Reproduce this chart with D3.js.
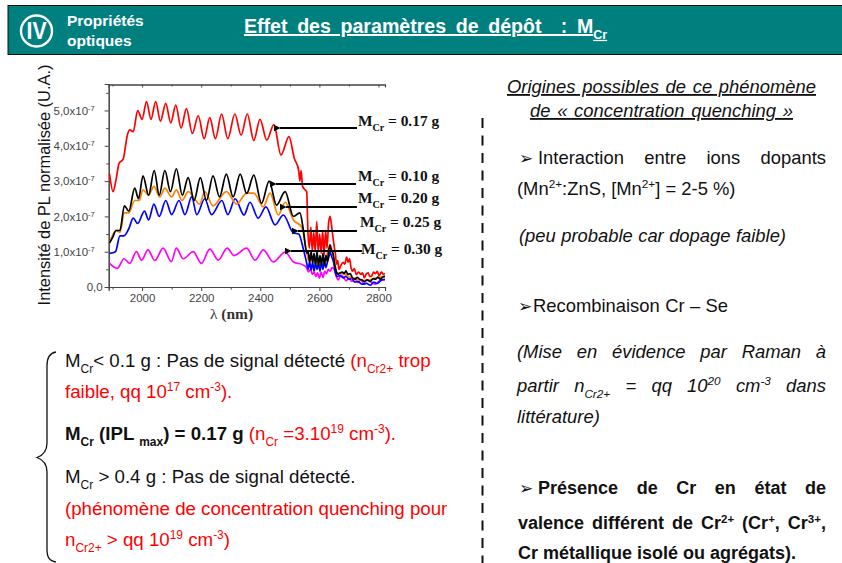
<!DOCTYPE html>
<html><head><meta charset="utf-8">
<script src="https://cdn.jsdelivr.net/npm/d3@7"></script>
<style>html,body{margin:0;padding:0;background:#fff}svg{display:block}text{font-family:"Liberation Sans",Arial,sans-serif}</style>
</head><body><svg id="c" width="842" height="563"></svg>
<script>
// PL intensity in units of 1e-7, wavelength in nm: [nm, value]
const red017 = [[1890,3.2],[1902,2.7],[1912,3.05],[1922,3.5],[1936,3.62],[1950,4.3],[1958,4.45],[1970,4.4],[1985,5.0],[2000,4.75],[2015,5.25],[2030,4.75],[2046,5.25],[2062,4.7],[2080,5.2],[2097,4.65],[2114,5.15],[2132,4.5],[2150,5.05],[2170,4.35],[2190,4.85],[2210,4.2],[2229,4.8],[2248,4.2],[2269,4.9],[2290,4.2],[2314,4.9],[2335,4.3],[2356,4.9],[2378,4.15],[2399,4.75],[2422,4.16],[2446,4.6],[2470,3.74],[2497,4.26],[2515,3.65],[2530,3.3],[2534,3.0],[2538,3.3],[2543,2.85],[2552,2.75],[2557,2.7],[2561,1.6],[2566,1.1],[2571,1.7],[2576,1.0],[2581,1.55],[2586,1.0],[2591,1.85],[2596,1.0],[2601,1.5],[2606,0.95],[2611,1.6],[2616,0.9],[2621,1.6],[2626,1.1],[2631,1.8],[2636,2.0],[2641,1.75],[2646,1.4],[2651,1.1],[2654,0.95],[2658,0.65],[2662,0.75],[2666,0.5],[2672,0.6],[2680,0.7],[2686,0.65],[2692,0.85],[2697,0.7],[2702,0.8],[2707,0.55],[2712,0.45],[2718,0.52],[2725,0.35],[2732,0.42],[2740,0.36],[2746,0.4],[2752,0.26],[2758,0.36],[2765,0.4],[2770,0.3],[2776,0.3],[2783,0.42],[2790,0.38],[2796,0.44],[2802,0.32],[2810,0.42],[2816,0.36],[2822,0.38]];
const black010 = [[1890,1.25],[1900,1.4],[1912,1.6],[1925,1.6],[1940,2.3],[1955,2.15],[1975,2.8],[1988,2.5],[2003,3.15],[2022,2.6],[2041,3.3],[2058,2.6],[2077,3.3],[2096,2.7],[2116,3.35],[2136,2.6],[2156,3.1],[2176,2.45],[2197,3.1],[2218,2.45],[2240,3.15],[2262,2.55],[2285,3.2],[2308,2.55],[2332,3.2],[2354,2.65],[2378,3.17],[2404,2.37],[2430,3.0],[2455,2.32],[2484,2.7],[2512,2.0],[2534,2.1],[2546,1.6],[2557,0.96],[2562,1.0],[2567,0.7],[2572,1.0],[2577,0.68],[2582,0.95],[2587,0.62],[2592,1.0],[2597,0.6],[2602,0.9],[2607,0.62],[2612,0.95],[2617,0.62],[2622,0.9],[2627,0.72],[2632,1.05],[2636,1.19],[2640,1.05],[2646,0.95],[2652,0.62],[2658,0.42],[2664,0.36],[2670,0.4],[2678,0.42],[2684,0.38],[2690,0.46],[2696,0.36],[2704,0.38],[2712,0.26],[2720,0.22],[2728,0.27],[2736,0.22],[2744,0.2],[2752,0.16],[2762,0.2],[2772,0.16],[2782,0.24],[2790,0.22],[2798,0.28],[2806,0.22],[2814,0.28],[2822,0.3]];
const orange020 = [[1890,1.25],[1912,1.6],[1925,1.55],[1940,2.1],[1955,2.1],[1975,2.45],[1990,2.45],[2003,2.75],[2022,2.6],[2040,2.85],[2060,2.55],[2077,2.8],[2100,2.55],[2116,2.75],[2135,2.45],[2156,2.7],[2195,2.35],[2212,2.7],[2240,2.3],[2285,2.7],[2320,2.35],[2354,2.66],[2378,2.66],[2410,2.27],[2433,2.66],[2461,2.04],[2484,2.4],[2512,1.9],[2540,1.7],[2557,1.0],[2566,0.7],[2576,0.85],[2590,0.65],[2604,0.8],[2618,0.7],[2636,1.2],[2648,0.85],[2660,0.4],[2680,0.38],[2700,0.3],[2730,0.2],[2760,0.18],[2790,0.25],[2822,0.3]];
const blue025 = [[1890,0.95],[1910,1.0],[1925,1.45],[1938,1.45],[1955,1.65],[1970,1.95],[1985,1.8],[2008,2.15],[2022,1.9],[2040,2.35],[2058,2.0],[2080,2.45],[2100,2.05],[2125,2.45],[2145,2.05],[2168,2.55],[2185,2.05],[2212,2.5],[2235,2.05],[2270,2.45],[2290,2.05],[2315,2.5],[2345,2.04],[2365,2.4],[2393,1.95],[2419,2.27],[2450,1.76],[2478,2.04],[2512,1.53],[2530,1.5],[2545,1.1],[2557,0.68],[2562,0.5],[2567,0.72],[2572,0.48],[2577,0.7],[2582,0.45],[2587,0.7],[2592,0.5],[2597,0.68],[2602,0.45],[2607,0.7],[2612,0.5],[2617,0.72],[2622,0.55],[2627,0.7],[2632,0.85],[2636,0.98],[2642,0.85],[2648,0.7],[2654,0.42],[2660,0.3],[2670,0.32],[2680,0.26],[2690,0.3],[2700,0.22],[2710,0.24],[2720,0.14],[2730,0.16],[2745,0.08],[2760,0.1],[2772,0.05],[2784,0.14],[2796,0.1],[2810,0.2],[2822,0.22]];
const magenta030 = [[1890,0.67],[1916,0.53],[1939,0.8],[1958,0.67],[1981,1.0],[1998,0.76],[2020,1.05],[2043,0.75],[2071,1.1],[2099,0.72],[2116,1.1],[2139,0.8],[2173,1.0],[2201,0.67],[2229,1.07],[2258,0.76],[2288,1.1],[2311,0.89],[2354,1.1],[2382,0.76],[2410,1.05],[2444,0.71],[2484,0.99],[2512,0.71],[2546,0.62],[2556,0.55],[2563,0.43],[2570,0.5],[2576,0.36],[2582,0.42],[2588,0.3],[2594,0.4],[2600,0.25],[2606,0.42],[2612,0.27],[2618,0.44],[2624,0.38],[2630,0.5],[2636,0.45],[2643,0.55],[2650,0.5],[2657,0.3],[2664,0.2],[2672,0.34],[2680,0.3],[2690,0.18],[2700,0.24],[2710,0.16],[2720,0.25],[2730,0.12],[2740,0.2],[2750,0.1],[2760,0.2],[2775,0.14],[2790,0.08],[2805,0.18],[2822,0.2]];
const seriesData = [red017, magenta030, blue025, orange020, black010];
const seriesColors = ["#ff0000","#ff00ff","#0000ff","#ff8000","#000000"];
const xTicks = [2000,2200,2400,2600,2800];
const xMinor = [1900,2100,2300,2500,2700];
const yTicks = [0,1,2,3,4,5];
const yTickLabels = ["0,0","1,0x10","2,0x10","3,0x10","4,0x10","5,0x10"];
const yMinor = [0.5,1.5,2.5,3.5,4.5,5.5];
const massLabels = ["= 0.17 g","= 0.10 g","= 0.20 g","= 0.25 g","= 0.30 g"];

const svg = d3.select("#c");
const x = d3.scaleLinear().domain([1887,2822]).range([108.7,385]);
const y = d3.scaleLinear().domain([0,5.75]).range([287,84]);

// header
svg.append("rect").attr("x",8).attr("y",5.5).attr("width",840).attr("height",49).attr("fill","#007f7f").attr("stroke","#111").attr("stroke-width",1);
svg.append("circle").attr("cx",36.5).attr("cy",31).attr("r",15.5).attr("fill","none").attr("stroke","#fff").attr("stroke-width",2.4);
svg.append("text").attr("x",36.5).attr("y",39).attr("text-anchor","middle").attr("fill","#fff").attr("font-size",23).attr("font-weight","bold").attr("textLength",20).attr("lengthAdjust","spacingAndGlyphs").text("IV");
svg.append("text").attr("x",67).attr("y",26).attr("fill","#fff").attr("font-weight","bold").attr("font-size",15.5).text("Propriétés");
svg.append("text").attr("x",67).attr("y",46).attr("fill","#fff").attr("font-weight","bold").attr("font-size",15.5).text("optiques");

// rich-text helper
function rich(px, py, runs, o={}) {
  const t = svg.append("text").attr("x",px).attr("y",py).attr("font-size",o.size||17).attr("fill",o.fill||"#111")
    .attr("font-weight",o.bold?"bold":null).attr("font-style",o.italic?"italic":null)
    .attr("xml:space","preserve").style("white-space","pre");
  let shift=0;
  const size=o.size||17;
  runs.forEach(r=>{
    const [s,k=""]=r;
    const want = k.includes("s")?size*0.3:k.includes("u")?-size*0.36:0;
    const ts=t.append("tspan").text(s).attr("dy",want-shift);
    shift=want;
    if(k.includes("s")||k.includes("u")) ts.attr("font-size",size*0.64);
    if(k.includes("r")) ts.attr("fill","#ff0000");
    if(k.includes("b")) ts.attr("font-weight","bold");
    if(o.underline) ts.style("text-decoration","underline");
  });
  if(o.right){
    const len=t.node().getComputedTextLength();
    const n=runs.map(r=>r[0]).join("").trim().split(/\s+/).length-1;
    if(n>0) t.attr("word-spacing",(o.right-px-len)/n);
  }
  return t;
}
function bullet(px,py,o={}){
  svg.append("text").attr("x",px).attr("y",py).attr("font-size",o.size||17).attr("fill","#111").style("font-family","DejaVu Sans").text("➢");
}
rich(244,33,[["Effet des paramètres de dépôt  : M"],["Cr","s"]],{size:19.6,bold:true,fill:"#fff",underline:true,right:603});

// chart
const axisColor="#444";
const gx=svg.append("g").attr("transform","translate(0,287)").call(d3.axisBottom(x).tickValues(xTicks).tickSize(4).tickPadding(3).tickFormat(d3.format("d")));
const gy=svg.append("g").attr("transform","translate(108.7,0)").call(d3.axisLeft(y).tickValues(yTicks).tickSize(4).tickPadding(2).tickFormat((d,i)=>yTickLabels[i]));
const gxm=svg.append("g").attr("transform","translate(0,287)").call(d3.axisBottom(x).tickValues(xMinor).tickSize(2.5).tickFormat(""));
const gym=svg.append("g").attr("transform","translate(108.7,0)").call(d3.axisLeft(y).tickValues(yMinor).tickSize(2.5).tickFormat(""));
const gt=svg.append("g").attr("transform","translate(0,84.5)").call(d3.axisBottom(x).tickValues(xTicks).tickSizeOuter(0).tickSize(3).tickFormat(""));
const gtm=svg.append("g").attr("transform","translate(0,84.5)").call(d3.axisBottom(x).tickValues(xMinor).tickSizeOuter(0).tickSize(2).tickFormat(""));
[gx,gy,gxm,gym,gt,gtm].forEach(g=>{g.selectAll("path,line").attr("stroke",axisColor);g.selectAll("text").attr("fill",axisColor).attr("font-size",11.5).attr("font-family","Liberation Sans");g.select(".domain").attr("stroke-width",1.1);});
gy.selectAll(".tick text").each(function(d){ if(d>0){d3.select(this).attr("dx",-8).append("tspan").attr("dy",-4).attr("font-size",7.5).text("-7");}});

const line=d3.line().x(d=>x(d[0])).y(d=>y(d[1])).curve(d3.curveMonotoneX);
seriesData.forEach((s,i)=>svg.append("path").attr("d",line(s)).attr("fill","none").attr("stroke",seriesColors[i]).attr("stroke-width",1.7).attr("stroke-linejoin","round"));

// axis titles
svg.append("text").attr("transform","translate(50,185) rotate(-90)").attr("text-anchor","middle").attr("font-size",16.4).attr("fill","#111").text("Intensité de PL normalisée (U.A.)");
const xl=svg.append("text").attr("x",231.5).attr("y",319).attr("text-anchor","middle").attr("font-size",15.5).attr("font-weight","bold").attr("fill","#333").style("font-family","Liberation Serif");
xl.append("tspan").attr("font-weight","normal").text("λ");xl.append("tspan").text(" (nm)");

// arrows
svg.append("defs").append("marker").attr("id","ah").attr("viewBox","0 0 10 10").attr("refX",1).attr("refY",5).attr("markerWidth",3.6).attr("markerHeight",3.6).attr("orient","auto-start-reverse").append("path").attr("d","M0,5L10,0V10Z").attr("fill","#000");
const arrowRows=[[357,277,128,358,126],[356,273,184,358,181],[357,283,207,358,203],[357,295,231,360,227],[362,288,251,361,254]];
arrowRows.forEach((a,i)=>{
  svg.append("line").attr("x1",a[0]).attr("x2",a[1]+3).attr("y1",a[2]).attr("y2",a[2]).attr("stroke","#000").attr("stroke-width",2).attr("marker-end","url(#ah)");
  const t=svg.append("text").attr("x",a[3]).attr("y",a[4]).attr("font-size",15.4).attr("font-weight","bold").attr("fill","#111").style("font-family","Liberation Serif");
  t.append("tspan").text("M");
  t.append("tspan").attr("font-size",10).attr("dy",5).text("Cr");
  t.append("tspan").attr("dy",-5).text(" "+massLabels[i]);
});

// left block
svg.append("path").attr("d","M56,352C49,353 47,358 47,366V443C47,451 44,455 37,457.5C44,460 47,464 47,472V549C47,557 49,561 56,562").attr("fill","none").attr("stroke","#111").attr("stroke-width",1.3);
const L=65, S={size:18.7};
rich(L,367,[["M"],["Cr","s"],["< 0.1 g : Pas de signal détecté "],["(n","r"],["Cr2+","sr"],[" trop","r"]],S);
rich(L,398,[["faible, qq 10","r"],["17","ur"],[" cm","r"],["-3","ur"],[").","r"]],S);
rich(L,440,[["M","b"],["Cr","sb"],[" (IPL ","b"],["max","sb"],[") = 0.17 g ","b"],["(n","r"],["Cr","sr"],[" =3.10","r"],["19","ur"],[" cm","r"],["-3","ur"],[").","r"]],S);
rich(L,483,[["M"],["Cr","s"],[" > 0.4 g : Pas de signal détecté."]],S);
rich(L,515,[["(phénomène de concentration quenching pour","r"]],S);
rich(L,546,[["n","r"],["Cr2+","sr"],[" > qq 10","r"],["19","ur"],[" cm","r"],["-3","ur"],[")","r"]],S);

// separator
svg.append("line").attr("x1",482.5).attr("x2",482.5).attr("y1",118).attr("y2",563).attr("stroke","#111").attr("stroke-width",2).attr("stroke-dasharray","10 7.5");

// right block
const R=826;
rich(507,93,[["Origines possibles de ce phénomène"]],{size:18.4,italic:true,underline:true,right:816});
rich(530,117,[["de « concentration quenching »"]],{size:18.4,italic:true,underline:true,right:793});
bullet(519,164);
rich(538,164,[["Interaction entre ions dopants"]],{size:18.4,right:R});
rich(517,195,[["(Mn"],["2+","u"],[":ZnS, [Mn"],["2+","u"],["] = 2-5 %)"]],{size:18.4});
rich(519,242,[["(peu probable car dopage faible)"]],{size:18.4,italic:true,right:786});
bullet(518,312);
rich(533,312,[["Recombinaison Cr – Se"]],{size:18.4,right:728});
rich(517,358,[["(Mise en évidence par Raman à"]],{size:18.4,italic:true,right:R});
rich(517,392,[["partir n"],["Cr2+","s"],[" = qq 10"],["20","u"],[" cm"],["-3","u"],[" dans"]],{size:18.4,italic:true,right:R});
rich(517,423,[["littérature)"]],{size:18.4,italic:true});
bullet(519,494);
rich(538,494,[["Présence de Cr en état de"]],{size:18,bold:true,right:R});
rich(518,529,[["valence différent de Cr"],["2+","u"],[" (Cr"],["+","u"],[", Cr"],["3+","u"],[","]],{size:18,bold:true,right:R});
rich(518,559,[["Cr métallique isolé ou agrégats)."]],{size:18,bold:true});
</script></body></html>
